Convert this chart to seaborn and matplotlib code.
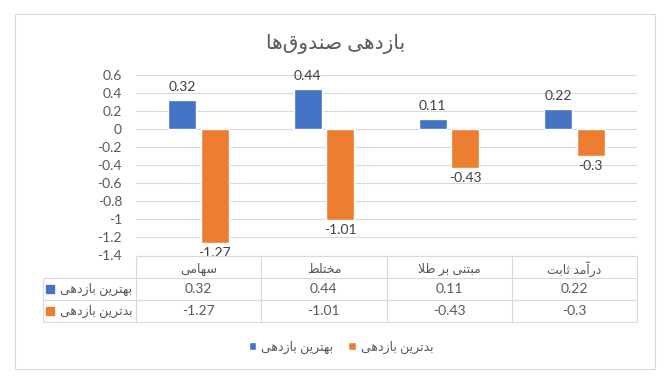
import matplotlib
matplotlib.use('Agg')
import matplotlib.pyplot as plt
import pandas as pd
import seaborn as sns
from matplotlib.patches import Rectangle

# Data
funds = ['سهامی', 'مختلط', 'مبتنی بر طلا', 'درآمد ثابت']
series = ['بهترین بازدهی', 'بدترین بازدهی']
best = [0.32, 0.44, 0.11, 0.22]
worst = [-1.27, -1.01, -0.43, -0.3]
title = 'بازدهی صندوق‌ها'
yticks = [0.6, 0.4, 0.2, 0, -0.2, -0.4, -0.6, -0.8, -1, -1.2, -1.4]
colors = ['#4472C4', '#ED7D31']

# matplotlib has no Arabic shaping, so map letters to presentation forms
# (isolated, final, initial, medial) and reverse for right-to-left display
FORMS = {
    'ا': ('\uFE8D', '\uFE8E', None, None),
    'آ': ('\uFE81', '\uFE82', None, None),
    'ب': ('\uFE8F', '\uFE90', '\uFE91', '\uFE92'),
    'ت': ('\uFE95', '\uFE96', '\uFE97', '\uFE98'),
    'ث': ('\uFE99', '\uFE9A', '\uFE9B', '\uFE9C'),
    'خ': ('\uFEA5', '\uFEA6', '\uFEA7', '\uFEA8'),
    'د': ('\uFEA9', '\uFEAA', None, None),
    'ر': ('\uFEAD', '\uFEAE', None, None),
    'ز': ('\uFEAF', '\uFEB0', None, None),
    'س': ('\uFEB1', '\uFEB2', '\uFEB3', '\uFEB4'),
    'ص': ('\uFEB9', '\uFEBA', '\uFEBB', '\uFEBC'),
    'ط': ('\uFEC1', '\uFEC2', '\uFEC3', '\uFEC4'),
    'ق': ('\uFED5', '\uFED6', '\uFED7', '\uFED8'),
    'ل': ('\uFEDD', '\uFEDE', '\uFEDF', '\uFEE0'),
    'م': ('\uFEE1', '\uFEE2', '\uFEE3', '\uFEE4'),
    'ن': ('\uFEE5', '\uFEE6', '\uFEE7', '\uFEE8'),
    'ه': ('\uFEE9', '\uFEEA', '\uFEEB', '\uFEEC'),
    'و': ('\uFEED', '\uFEEE', None, None),
    '\u06CC': ('\uFBFC', '\uFBFD', '\uFBFE', '\uFBFF'),
}
DUAL = {c for c, f in FORMS.items() if f[2]}
LAM_ALEF = {'ا': ('\uFEFB', '\uFEFC'), 'آ': ('\uFEF5', '\uFEF6')}


def fa(text):
    text = text.replace('\u064A', '\u06CC')
    n = len(text)
    out = []
    i = 0
    while i < n:
        ch = text[i]
        prev = i > 0 and ch in FORMS and text[i - 1] in DUAL
        if ch == 'ل' and i + 1 < n and text[i + 1] in LAM_ALEF:
            out.append(LAM_ALEF[text[i + 1]][1 if prev else 0])
            i += 2
            continue
        if ch in FORMS:
            nxt = i + 1 < n and ch in DUAL and text[i + 1] in FORMS
            idx = 3 if prev and nxt else 1 if prev else 2 if nxt else 0
            out.append(FORMS[ch][idx])
        elif ch != '\u200c':
            out.append(ch)
        i += 1
    return ''.join(reversed(out))


sns.set_style('white')
plt.rcParams['font.family'] = ['Lato', 'DejaVu Sans']
txt = '#595959'
grid_c = '#D9D9D9'

df = pd.DataFrame({
    'fund': funds * 2,
    'series': [series[0]] * len(funds) + [series[1]] * len(funds),
    'value': best + worst,
})

W, H = 670, 385
fig = plt.figure(figsize=(W / 100, H / 100), dpi=100)
ax = fig.add_axes([136 / W, 1 - 255 / H, 501 / W, 180 / H])
tax = fig.add_axes([136 / W, 1 - 322 / H, 501 / W, 66 / H], sharex=ax)

sns.barplot(data=df, x='fund', y='value', hue='series', palette=colors,
            width=0.52, gap=0.14, saturation=1, errorbar=None, ax=ax)

for c, pad in zip(ax.containers, [5, 3]):
    ax.bar_label(c, fmt='%g', padding=pad, fontsize=10, color='#404040')

ax.set_xlim(-0.5, len(funds) - 0.5)
ax.set_ylim(-1.4, 0.6)
ax.set_yticks(yticks)
ax.set_yticklabels([f'{v:g}' for v in yticks])
ax.yaxis.grid(True, color=grid_c, lw=0.8)
ax.set_axisbelow(True)
ax.tick_params(axis='y', length=0, pad=10, labelsize=10, labelcolor=txt)
ax.tick_params(axis='x', length=0, labelbottom=False)
ax.set_xlabel('')
ax.set_ylabel('')
for s in ax.spines.values():
    s.set_visible(False)

# legend at the bottom
handles, labels = ax.get_legend_handles_labels()
ax.get_legend().remove()
fig.legend(handles, [fa(l) for l in labels], loc='center',
           bbox_to_anchor=(341 / W, 1 - 347 / H), ncol=2, frameon=False,
           fontsize=9, labelcolor=txt, handlelength=0.6, handleheight=0.6,
           handletextpad=0.4, columnspacing=1.2)

# data table under the plot
tax.axis('off')
tax.set_ylim(3, 0)
x0 = -1.24
kw = dict(color=grid_c, lw=0.8, clip_on=False)
tax.hlines([0], -0.5, len(funds) - 0.5, **kw)
tax.hlines([1, 2, 3], x0, len(funds) - 0.5, **kw)
tax.vlines([i - 0.5 for i in range(len(funds) + 1)], 0, 3, **kw)
tax.vlines([x0], 1, 3, **kw)
for i, f in enumerate(funds):
    tax.text(i, 0.6, fa(f), ha='center', va='center', fontsize=9, color=txt)
for r, vals in enumerate([best, worst]):
    for i, v in enumerate(vals):
        tax.text(i, r + 1.5, f'{v:g}', ha='center', va='center', fontsize=10, color=txt)
    tax.text(-0.53, r + 1.5, fa(series[r]), ha='right', va='center', fontsize=9, color=txt)
    tax.plot(x0 + 0.055, r + 1.5, marker='s', ms=6, color=colors[r], clip_on=False)

fig.text(336 / W, 1 - 44 / H, fa(title), ha='center', va='center', fontsize=14.5, color=txt)
fig.add_artist(Rectangle((15 / W, 1 - 369 / H), 640 / W, 355 / H, transform=fig.transFigure,
                         fill=False, edgecolor=grid_c, lw=0.8))

fig.savefig('out.png', dpi=100)
